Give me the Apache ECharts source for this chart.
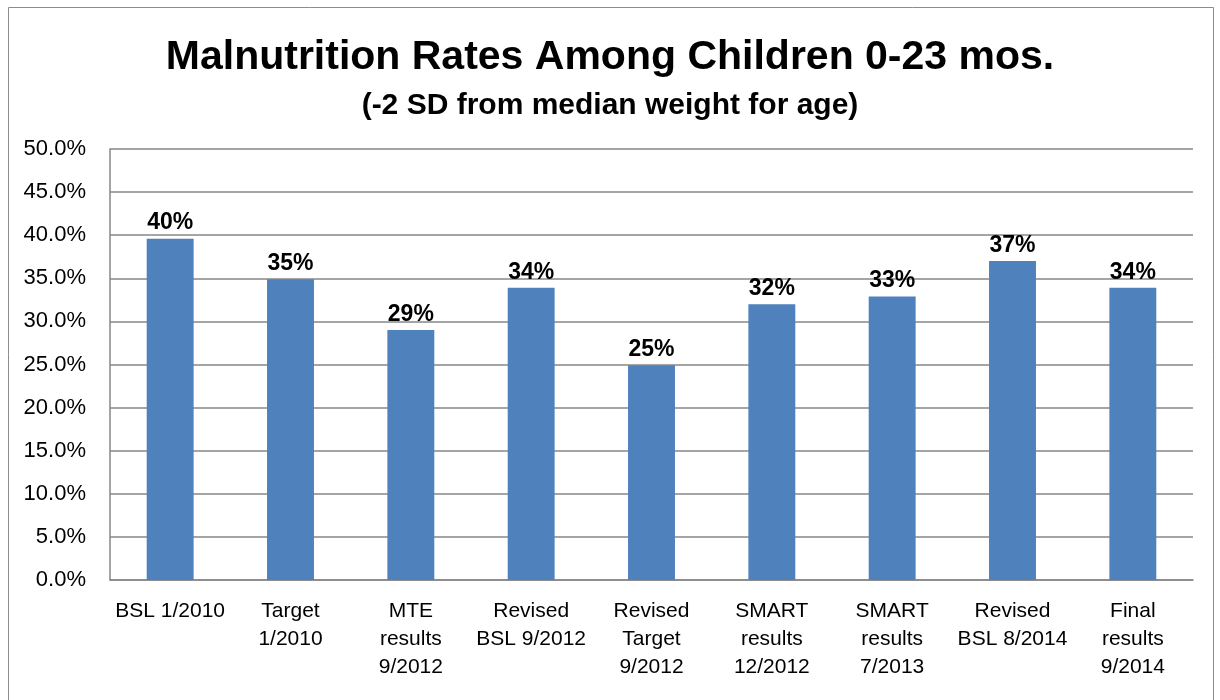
<!DOCTYPE html>
<html>
<head>
<meta charset="utf-8">
<script src="https://cdn.jsdelivr.net/npm/echarts@6/dist/echarts.min.js"></script>
<style>
    html, body { margin: 0; padding: 0; background: #fff; }
    #chartBar { width: 1220px; height: 700px; }
</style>
</head>
<body>
<div id="chartBar"></div>
<script>
    // values, in percent
    var categories = ['BSL 1/2010', 'Target\n1/2010', 'MTE\nresults\n9/2012', 'Revised\nBSL 9/2012',
        'Revised\nTarget\n9/2012', 'SMART\nresults\n12/2012', 'SMART\nresults\n7/2013',
        'Revised\nBSL 8/2014', 'Final\nresults\n9/2014'];
    var rates = [39.6, 34.9, 29.0, 33.9, 24.9, 32.0, 32.9, 37.0, 33.9];
    var yTicks = { min: 0, max: 50, step: 5 };

    var font = 'Liberation Sans, Arial, sans-serif';
    var chartBar = echarts.init(document.getElementById('chartBar'));

    chartBar.setOption({
        animation: false,
        title: [
            {
                text: 'Malnutrition Rates Among Children 0-23 mos.',
                left: 'center',
                top: 32,
                textStyle: { fontFamily: font, fontSize: 41, fontWeight: 'bold', color: '#000' }
            },
            {
                text: '(-2 SD from median weight for age)',
                left: 'center',
                top: 86,
                textStyle: { fontFamily: font, fontSize: 30, fontWeight: 'bold', color: '#000' }
            }
        ],
        graphic: [{
            type: 'rect',
            shape: { x: 8.5, y: 7.5, width: 1205, height: 720 },
            style: { fill: 'none', stroke: '#8c8c8c', lineWidth: 1 },
            silent: true
        }],
        grid: { left: 110, right: 27, top: 149, bottom: 120 },
        xAxis: {
            type: 'category',
            data: categories,
            axisLine: { lineStyle: { color: '#878787', width: 1.5 } },
            axisTick: { show: false },
            axisLabel: {
                interval: 0,
                margin: 17,
                fontFamily: font,
                fontSize: 21,
                lineHeight: 28,
                color: '#000',
                align: 'center'
            }
        },
        yAxis: {
            type: 'value',
            min: yTicks.min,
            max: yTicks.max,
            interval: yTicks.step,
            axisLine: { show: true, lineStyle: { color: '#878787', width: 1.5 } },
            axisTick: { show: false },
            splitLine: { lineStyle: { color: '#878787', width: 1.5 } },
            axisLabel: {
                margin: 24,
                fontFamily: font,
                fontSize: 22,
                color: '#000',
                formatter: function (v) { return v.toFixed(1) + '%'; }
            }
        },
        series: [{
            type: 'bar',
            data: rates,
            barWidth: '39%',
            itemStyle: { color: '#4F81BD' },
            label: {
                show: true,
                position: 'top',
                distance: 4,
                fontFamily: font,
                fontSize: 23,
                fontWeight: 'bold',
                color: '#000',
                formatter: function (p) { return Math.round(p.value) + '%'; }
            }
        }]
    });
</script>
</body>
</html>
